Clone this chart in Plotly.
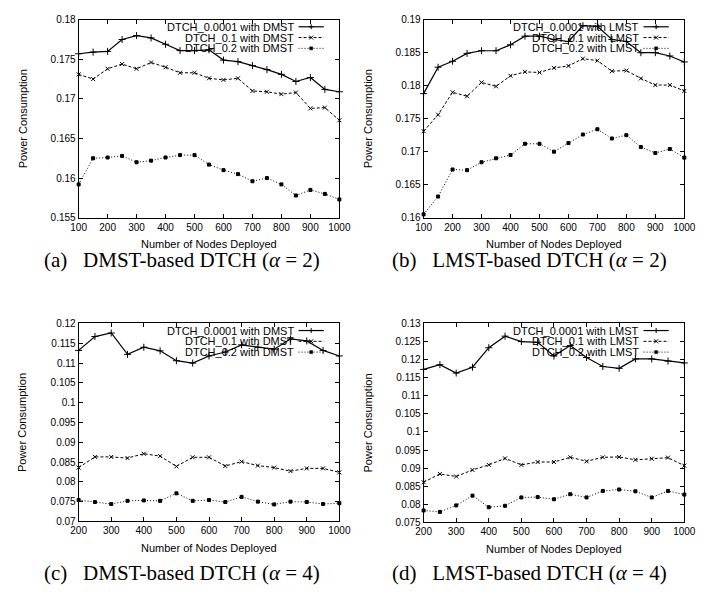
import plotly.graph_objects as go

W, H = 707, 597

# ---------------- data ----------------
x_top = [100, 150, 200, 250, 300, 350, 400, 450, 500, 550, 600, 650, 700, 750, 800, 850, 900, 950, 1000]
x_bot = [200, 250, 300, 350, 400, 450, 500, 550, 600, 650, 700, 750, 800, 850, 900, 950, 1000]

a1 = [0.1757, 0.1759, 0.1760, 0.1775, 0.1780, 0.1777, 0.1769, 0.1761, 0.1761, 0.1762, 0.1749, 0.1747, 0.1742, 0.1737, 0.1731, 0.1722, 0.1727, 0.1712, 0.1709]
a2 = [0.1731, 0.1725, 0.1738, 0.1744, 0.1738, 0.1746, 0.1740, 0.1733, 0.1733, 0.1726, 0.1724, 0.1726, 0.1710, 0.1709, 0.1706, 0.1708, 0.1688, 0.1689, 0.1673]
a3 = [0.1592, 0.1625, 0.1626, 0.1628, 0.1620, 0.1622, 0.1626, 0.1629, 0.1629, 0.1617, 0.1610, 0.1605, 0.1596, 0.1600, 0.1592, 0.1578, 0.1585, 0.1580, 0.1573]

b1 = [0.1788, 0.1828, 0.1837, 0.1849, 0.1853, 0.1853, 0.1862, 0.1875, 0.1875, 0.1870, 0.1867, 0.1891, 0.1890, 0.1870, 0.1867, 0.1850, 0.1850, 0.1845, 0.1836]
b2 = [0.1731, 0.1756, 0.1790, 0.1784, 0.1805, 0.1799, 0.1815, 0.1821, 0.1820, 0.1827, 0.1830, 0.1841, 0.1838, 0.1822, 0.1823, 0.1811, 0.1801, 0.1801, 0.1792]
b3 = [0.1605, 0.1632, 0.1673, 0.1672, 0.1684, 0.1690, 0.1695, 0.1712, 0.1712, 0.1700, 0.1713, 0.1726, 0.1734, 0.1720, 0.1725, 0.1707, 0.1698, 0.1704, 0.1691]

c1 = [0.1132, 0.1167, 0.1176, 0.1122, 0.1140, 0.1131, 0.1106, 0.1100, 0.1118, 0.1128, 0.1146, 0.1140, 0.1135, 0.1161, 0.1156, 0.1132, 0.1118]
c2 = [0.0836, 0.0863, 0.0863, 0.0860, 0.0871, 0.0865, 0.0839, 0.0862, 0.0862, 0.0840, 0.0851, 0.0841, 0.0836, 0.0827, 0.0834, 0.0834, 0.0824]
c3 = [0.0754, 0.0749, 0.0744, 0.0752, 0.0753, 0.0752, 0.0771, 0.0752, 0.0754, 0.0749, 0.0762, 0.0750, 0.0743, 0.0750, 0.0749, 0.0744, 0.0746]

d1 = [0.1173, 0.1186, 0.1163, 0.1179, 0.1233, 0.1265, 0.1250, 0.1248, 0.1210, 0.1239, 0.1206, 0.1181, 0.1176, 0.1202, 0.1202, 0.1196, 0.1191]
d2 = [0.0861, 0.0884, 0.0877, 0.0895, 0.0909, 0.0927, 0.0909, 0.0917, 0.0917, 0.0930, 0.0919, 0.0930, 0.0931, 0.0923, 0.0926, 0.0929, 0.0907]
d3 = [0.0783, 0.0779, 0.0797, 0.0824, 0.0792, 0.0796, 0.0819, 0.0820, 0.0814, 0.0828, 0.0819, 0.0837, 0.0841, 0.0836, 0.0819, 0.0837, 0.0827]

xticks_top = [100, 200, 300, 400, 500, 600, 700, 800, 900, 1000]
xticks_bot = [200, 300, 400, 500, 600, 700, 800, 900, 1000]
yticks_a = [0.155, 0.16, 0.165, 0.17, 0.175, 0.18]
ylabels_a = ["0.155", "0.16", "0.165", "0.17", "0.175", "0.18"]
yticks_b = [0.16, 0.165, 0.17, 0.175, 0.18, 0.185, 0.19]
ylabels_b = ["0.16", "0.165", "0.17", "0.175", "0.18", "0.185", "0.19"]
yticks_c = [0.07, 0.075, 0.08, 0.085, 0.09, 0.095, 0.1, 0.105, 0.11, 0.115, 0.12]
ylabels_c = ["0.07", "0.075", "0.08", "0.085", "0.09", "0.095", "0.1", "0.105", "0.11", "0.115", "0.12"]
yticks_d = [0.075, 0.08, 0.085, 0.09, 0.095, 0.1, 0.105, 0.11, 0.115, 0.12, 0.125, 0.13]
ylabels_d = ["0.075", "0.08", "0.085", "0.09", "0.095", "0.1", "0.105", "0.11", "0.115", "0.12", "0.125", "0.13"]

names_dmst = ["DTCH_0.0001 with DMST", "DTCH_0.1 with DMST", "DTCH_0.2 with DMST"]
names_lmst = ["DTCH_0.0001 with LMST", "DTCH_0.1 with LMST", "DTCH_0.2 with LMST"]
NB = "\u00a0"
captions = [f"(a){NB}{NB} DMST-based DTCH (<i>α</i>{NB}= 2)",
            f"(b){NB}{NB} LMST-based DTCH (<i>α</i>{NB}= 2)",
            f"(c){NB}{NB} DMST-based DTCH (<i>α</i>{NB}= 4)",
            f"(d){NB}{NB} LMST-based DTCH (<i>α</i>{NB}= 4)"]
xtitle = "Number of Nodes Deployed"
ytitle = "Power Consumption"

# ---------------- layout geometry (pixels) ----------------
def fx(px):
    return px / W

def fy(py):
    return 1 - py / H

panels = [
    dict(box=(72.7, 341, 14, 216), x=x_top, ys=[a1, a2, a3], names=names_dmst, xr=[100, 1000], xt=xticks_top,
         yr=[0.155, 0.18], yt=yticks_a, yl=ylabels_a, ytx=15, cap=captions[0], capx=179, capy=259),
    dict(box=(427.7, 696, 14, 216), x=x_top, ys=[b1, b2, b3], names=names_lmst, xr=[100, 1000], xt=xticks_top,
         yr=[0.16, 0.19], yt=yticks_b, yl=ylabels_b, ytx=370, cap=captions[1], capx=537, capy=259),
    dict(box=(72.7, 341, 324, 526), x=x_bot, ys=[c1, c2, c3], names=names_dmst, xr=[200, 1000], xt=xticks_bot,
         yr=[0.07, 0.12], yt=yticks_c, yl=ylabels_c, ytx=15, cap=captions[2], capx=179, capy=579),
    dict(box=(427.7, 696, 324, 527), x=x_bot, ys=[d1, d2, d3], names=names_lmst, xr=[200, 1000], xt=xticks_bot,
         yr=[0.075, 0.13], yt=yticks_d, yl=ylabels_d, ytx=370, cap=captions[3], capx=537, capy=579),
]

styles = [
    dict(dash="solid", width=1.2, symbol="cross-thin", msize=5),
    dict(dash="3px,2px", width=1.0, symbol="x-thin", msize=4),
    dict(dash="1px,2px", width=1.0, symbol="square", msize=3),
]

tickfont = dict(family="Liberation Sans, Arial, sans-serif", size=10, color="black")
labfont = dict(family="Liberation Sans, Arial, sans-serif", size=11, color="black")
capfont = dict(family="Liberation Serif, Times New Roman, serif", size=21, color="black")

fig = go.Figure()
layout = dict(width=W, height=H, autosize=False, margin=dict(l=0, r=0, t=0, b=0),
              paper_bgcolor="white", plot_bgcolor="white", showlegend=False)
annotations = []
shapes = []

for i, p in enumerate(panels):
    L, R, T, B = p["box"]
    k = "" if i == 0 else str(i + 1)
    axcommon = dict(ticks="inside", ticklen=4, tickwidth=1, tickcolor="black", showline=True,
                    linecolor="black", linewidth=1, mirror="ticks", showgrid=False, zeroline=False,
                    tickfont=tickfont, ticklabeloverflow="allow")
    layout["xaxis" + k] = dict(domain=[fx(L), fx(R)], range=p["xr"], tickvals=p["xt"],
                               ticktext=[str(v) for v in p["xt"]], anchor="y" + k, **axcommon)
    layout["yaxis" + k] = dict(domain=[fy(B), fy(T)], range=p["yr"], tickvals=p["yt"],
                               ticktext=p["yl"], anchor="x" + k, **axcommon)
    for j, (ys, st, nm) in enumerate(zip(p["ys"], styles, p["names"])):
        fig.add_trace(go.Scatter(
            x=p["x"], y=ys, mode="lines+markers", name=nm, xaxis="x" + k, yaxis="y" + k,
            cliponaxis=False, hoverinfo="skip",
            line=dict(color="black", width=st["width"], dash=st["dash"]),
            marker=dict(symbol=st["symbol"], size=st["msize"], color="black",
                        line=dict(color="black", width=1)),
        ))
        ry = T + 7.2 + 11 * j
        annotations.append(dict(x=fx(R - 46), y=fy(ry), xref="paper", yref="paper", text=nm,
                                showarrow=False, xanchor="right", yanchor="middle", font=labfont,
                                borderpad=0))
        shapes.append(dict(type="line", xref="paper", yref="paper", x0=fx(R - 42), x1=fx(R - 16),
                           y0=fy(ry), y1=fy(ry),
                           line=dict(color="black", width=st["width"], dash=st["dash"])))
        mx, my = fx(R - 29), fy(ry)
        if j == 0:
            path = "M -2.5,0 L 2.5,0 M 0,-2.5 L 0,2.5"
            shapes.append(dict(type="path", xref="paper", yref="paper", xsizemode="pixel", ysizemode="pixel",
                               xanchor=mx, yanchor=my, path=path, line=dict(color="black", width=1)))
        elif j == 1:
            path = "M -2,-2 L 2,2 M -2,2 L 2,-2"
            shapes.append(dict(type="path", xref="paper", yref="paper", xsizemode="pixel", ysizemode="pixel",
                               xanchor=mx, yanchor=my, path=path, line=dict(color="black", width=1)))
        else:
            path = "M -1.5,-1.5 L 1.5,-1.5 L 1.5,1.5 L -1.5,1.5 Z"
            shapes.append(dict(type="path", xref="paper", yref="paper", xsizemode="pixel", ysizemode="pixel",
                               xanchor=mx, yanchor=my, path=path, fillcolor="black",
                               line=dict(color="black", width=0.5)))
    annotations.append(dict(x=fx((L + R) / 2), y=fy(B + 27), xref="paper", yref="paper", text=xtitle,
                            showarrow=False, xanchor="center", yanchor="middle", font=labfont))
    annotations.append(dict(x=fx(p["ytx"]), y=fy((T + B) / 2), xref="paper", yref="paper", text=ytitle,
                            showarrow=False, xanchor="center", yanchor="middle", textangle=-90, font=labfont))
    annotations.append(dict(x=fx(p["capx"]), y=fy(p["capy"]), xref="paper", yref="paper", text=p["cap"],
                            showarrow=False, xanchor="center", yanchor="middle", font=capfont))

layout["annotations"] = annotations
layout["shapes"] = shapes
fig.update_layout(**layout)
fig.write_html("out.html", config={"displayModeBar": False},
               post_script="document.body.style.margin='0px';document.body.style.overflow='hidden';")
